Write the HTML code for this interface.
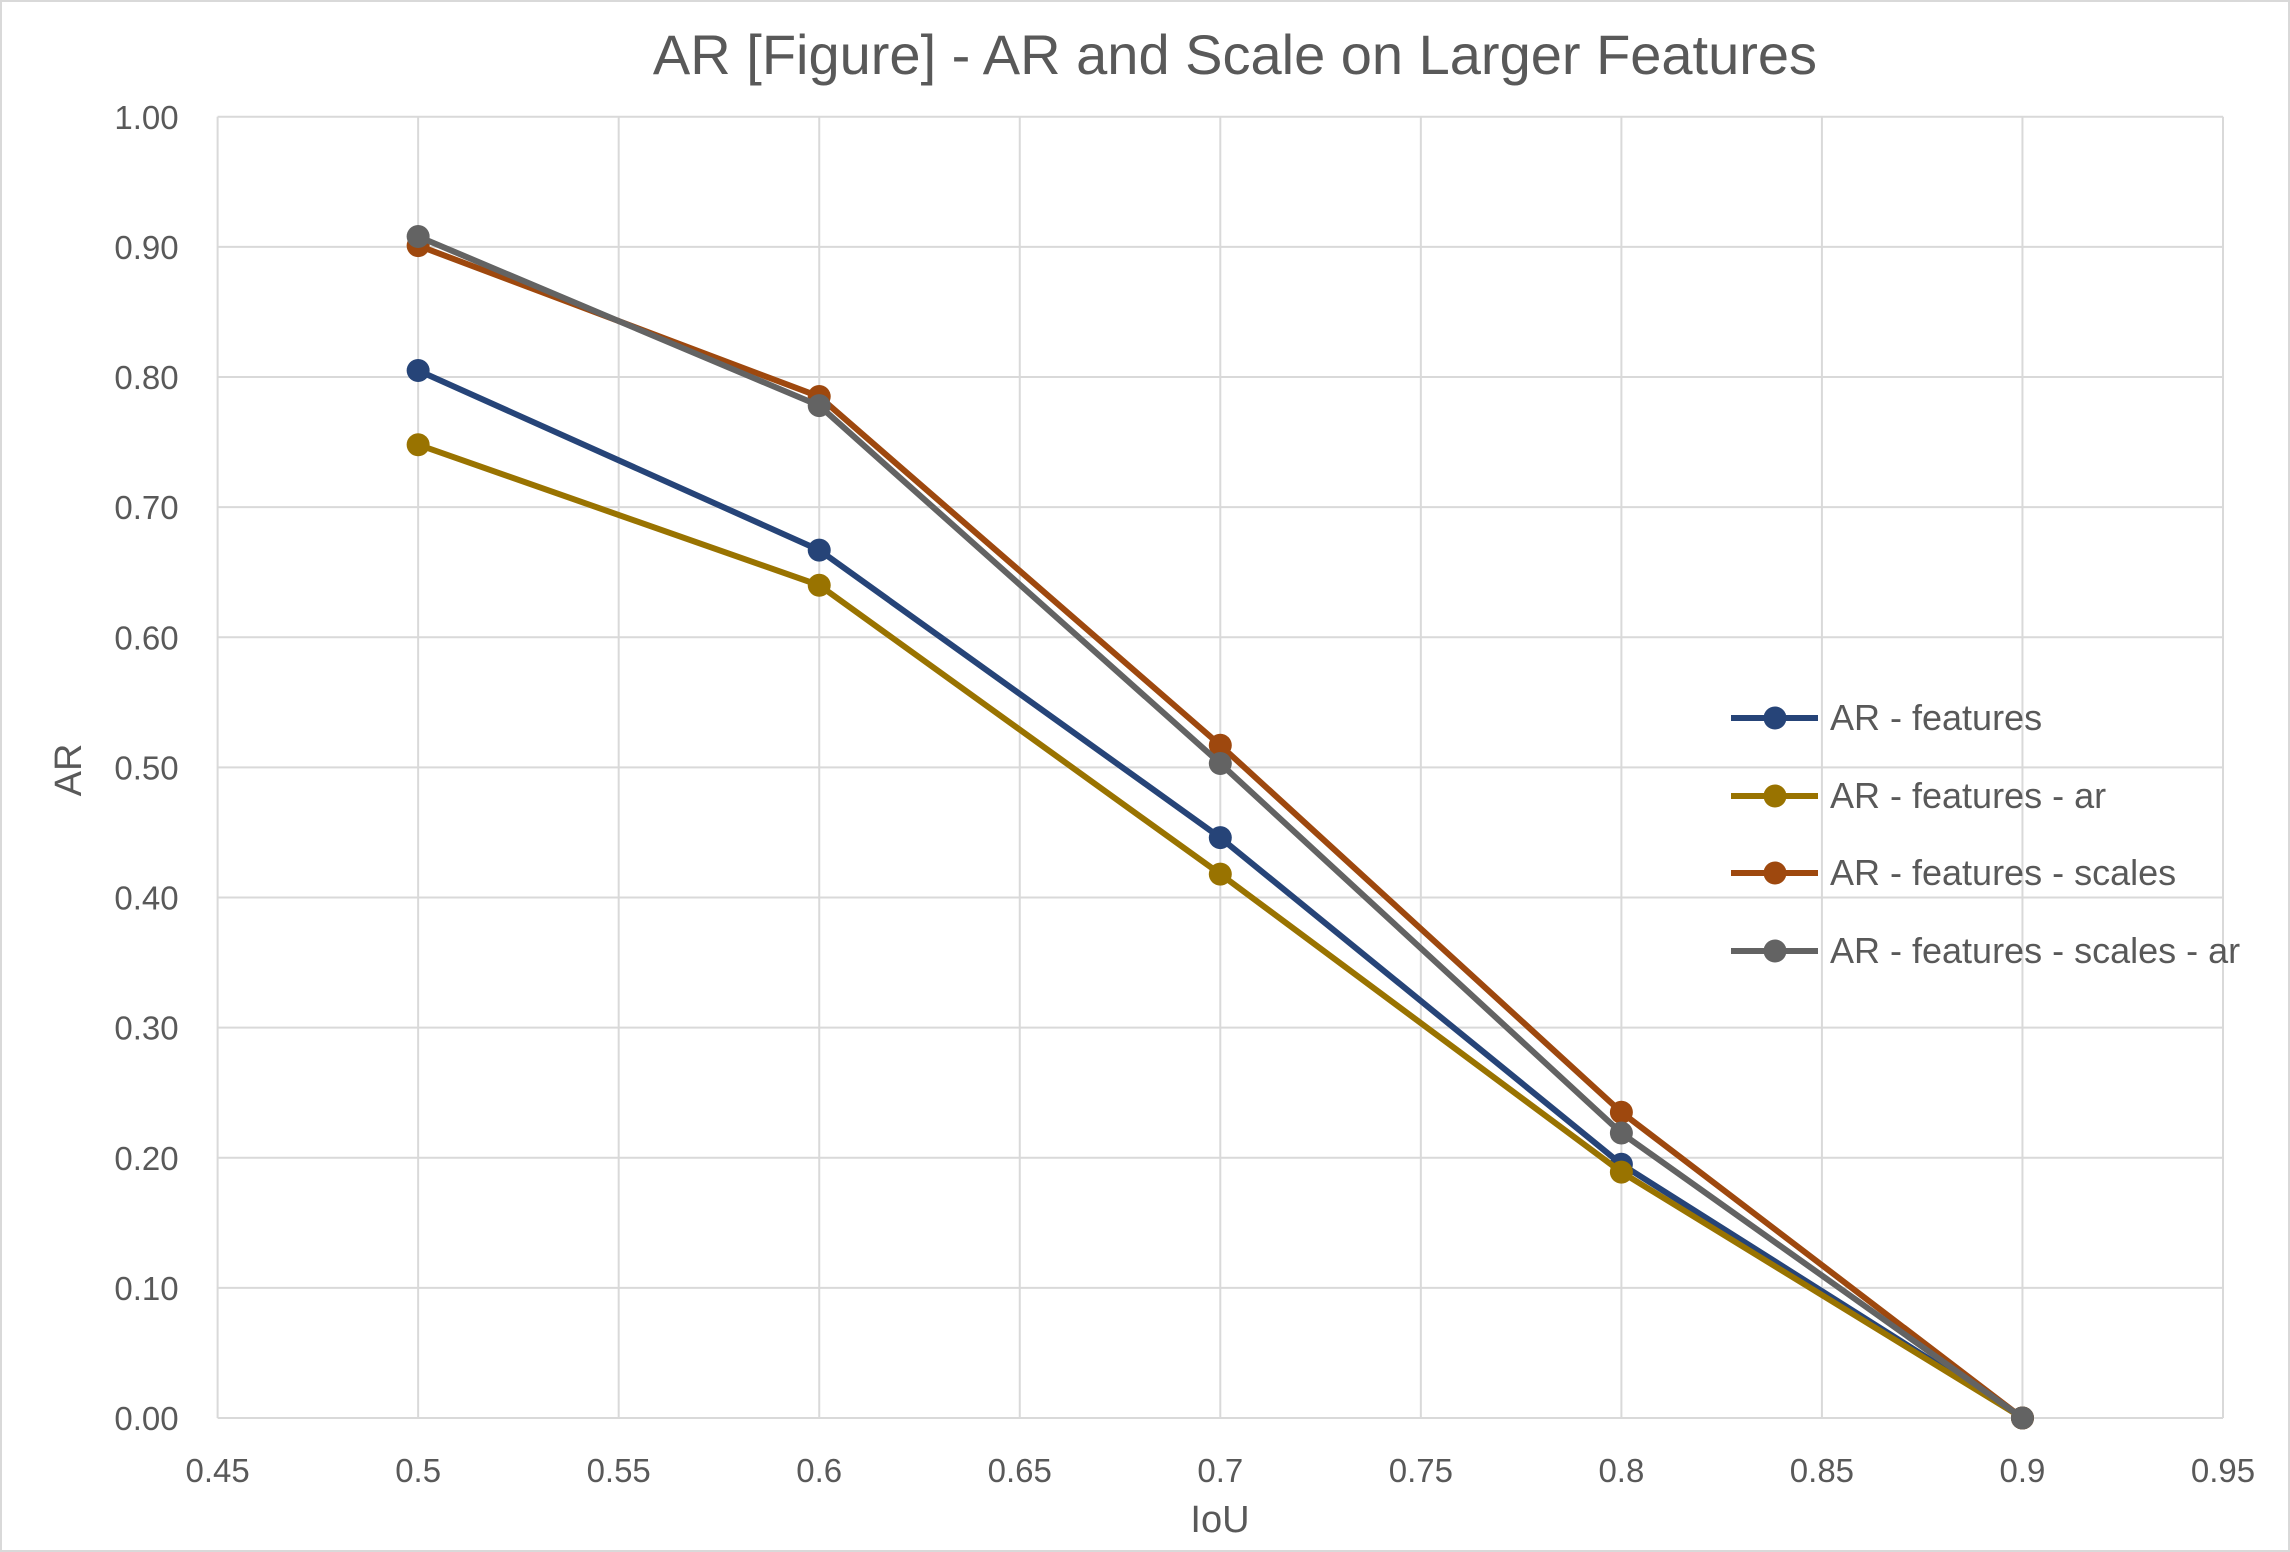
<!DOCTYPE html>
<html><head><meta charset="utf-8"><style>
html,body{margin:0;padding:0;background:#fff;}
svg{display:block;font-family:"Liberation Sans",sans-serif;}
</style></head><body>
<svg id="chart" width="2290" height="1552">
<rect x="1" y="1" width="2288" height="1550" fill="#fff" stroke="#d9d9d9" stroke-width="2"/>
<text x="1235" y="74" text-anchor="middle" font-size="56" fill="#595959">AR [Figure] - AR and Scale on Larger Features</text>
<g id="grid"></g><g id="series"></g><g id="legend"></g>
<text x="0" y="0" transform="translate(81,770) rotate(-90)" text-anchor="middle" font-size="38" fill="#595959">AR</text>
<text x="1220" y="1532" text-anchor="middle" font-size="38" fill="#595959">IoU</text>
</svg>
<script>
const xCats=[0.5,0.6,0.7,0.8,0.9];
const seriesNames=["AR - features","AR - features - ar","AR - features - scales","AR - features - scales - ar"];
const sFeatures=[0.805,0.667,0.446,0.195,0];
const sAr=[0.748,0.640,0.418,0.189,0];
const sScales=[0.901,0.785,0.517,0.235,0];
const sScalesAr=[0.908,0.778,0.503,0.219,0];
const xTicks=[0.45,0.5,0.55,0.6,0.65,0.7,0.75,0.8,0.85,0.9,0.95];
const yTicks=[0,0.1,0.2,0.3,0.4,0.5,0.6,0.7,0.8,0.9,1.0];
const colors=["#264478","#997300","#9e480e","#636363"];
const NS="http://www.w3.org/2000/svg";
const X0=217.6,X1=2223,Y0=1418,Y1=116.8;
const xs=v=>X0+(v-0.45)/(0.5)*(X1-X0);
const ys=v=>Y0-v*(Y0-Y1);
function mk(t,a,p){const e=document.createElementNS(NS,t);for(const k in a)e.setAttribute(k,a[k]);p.appendChild(e);return e;}
const grid=document.getElementById('grid');
xTicks.forEach(t=>{
 const l=mk('line',{x1:xs(t),x2:xs(t),y1:Y1,y2:Y0,stroke:'#d9d9d9','stroke-width':2},grid);
 
 
 const tx=mk('text',{x:xs(t),y:Y0+64,'text-anchor':'middle','font-size':33,fill:'#595959'},grid);
 tx.textContent=String(t);
 
 
});
yTicks.forEach(t=>{
 const l=mk('line',{x1:X0,x2:X1,y1:ys(t),y2:ys(t),stroke:'#d9d9d9','stroke-width':2},grid);
 
 
 const tx=mk('text',{x:X0-39,y:ys(t)+12,'text-anchor':'end','font-size':33,fill:'#595959'},grid);
 tx.textContent=t.toFixed(2);
 
 
});
const sg=document.getElementById('series');
[sFeatures,sAr,sScales,sScalesAr].forEach((d,i)=>{
 const g=mk('g',{},sg);
 
 
 const pts=d.map((v,j)=>xs(xCats[j])+','+ys(v)).join(' ');
 const pl=mk('polyline',{points:pts,fill:'none',stroke:colors[i],'stroke-width':6,'stroke-linejoin':'round'},g);
 
 
 d.forEach((v,j)=>{
  const c=mk('circle',{cx:xs(xCats[j]),cy:ys(v),r:11.5,fill:colors[i]},g);
  
  
 });
});
const lg=document.getElementById('legend');
const ly=[718,796,873,951];
seriesNames.forEach((n,i)=>{
 const g=mk('g',{},lg);
 
 
 mk('line',{x1:1731,x2:1818,y1:ly[i],y2:ly[i],stroke:colors[i],'stroke-width':6},g);
 mk('circle',{cx:1775,cy:ly[i],r:11.5,fill:colors[i]},g);
 const t=mk('text',{x:1830,y:ly[i]+12,'font-size':36,fill:'#595959'},g);
 t.textContent=n;
});
</script>
</body></html>
